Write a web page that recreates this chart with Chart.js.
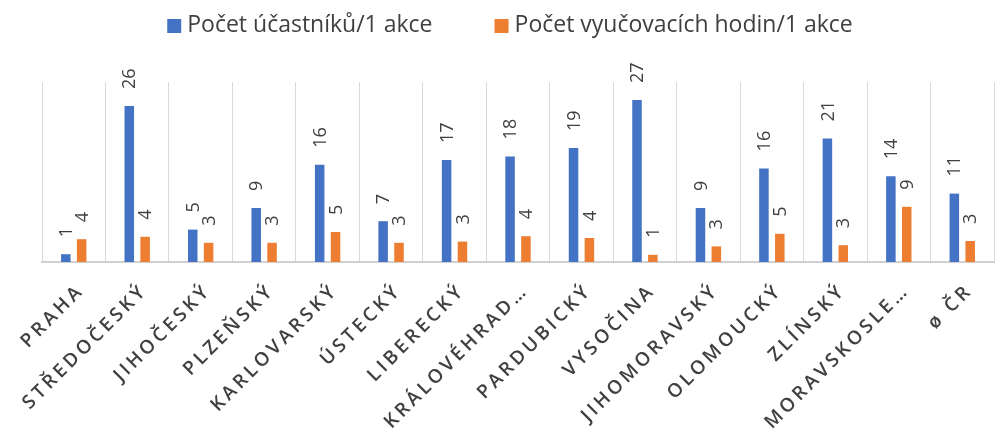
<!DOCTYPE html>
<html>
<head>
<meta charset="utf-8">
<script src="https://cdn.jsdelivr.net/npm/chart.js@4.4.1/dist/chart.umd.min.js"></script>
<style>
  html, body { margin: 0; padding: 0; background: #fff; }
  #wrap { width: 996px; height: 429px; }
</style>
</head>
<body>
<div id="wrap"><canvas id="chart"></canvas></div>
<script>
// categories (as shown, truncated like in the original)
const regions = ['PRAHA', 'STŘEDOČESKÝ', 'JIHOČESKÝ', 'PLZEŇSKÝ', 'KARLOVARSKÝ', 'ÚSTECKÝ', 'LIBERECKÝ',
  'KRÁLOVÉHRAD…', 'PARDUBICKÝ', 'VYSOČINA', 'JIHOMORAVSKÝ', 'OLOMOUCKÝ', 'ZLÍNSKÝ', 'MORAVSKOSLE…', 'ø ČR'];

// bar values
const participants = [1.3, 26, 5.4, 9, 16.2, 6.8, 17, 17.6, 19, 27, 9, 15.6, 20.6, 14.3, 11.4];
const hours        = [3.8, 4.2, 3.2, 3.2, 5, 3.2, 3.4, 4.3, 4, 1.2, 2.6, 4.7, 2.8, 9.2, 3.5];

// printed labels above bars
const participantsLbl = [1, 26, 5, 9, 16, 7, 17, 18, 19, 27, 9, 16, 21, 14, 11];
const hoursLbl        = [4, 4, 3, 3, 5, 3, 3, 4, 4, 1, 3, 5, 3, 9, 3];

const seriesNames = ['Počet účastníků/1 akce', 'Počet vyučovacích hodin/1 akce'];
const TEXT = '#404040';

// draws text right-aligned with letter spacing
function spacedText(ctx, txt, spacing) {
  const chars = Array.from(txt);
  let total = 0;
  chars.forEach(c => total += ctx.measureText(c).width);
  total += spacing * (chars.length - 1);
  let x = -total;
  chars.forEach(c => {
    ctx.fillText(c, x, 0);
    x += ctx.measureText(c).width + spacing;
  });
}

//----------------------- custom drawing -----------------------//
const customDraw = {
  id: 'customDraw',
  afterDatasetsDraw(chart) {
    const ctx = chart.ctx;
    ctx.save();
    ctx.fillStyle = TEXT;

    // value labels, rotated
    ctx.font = '18px "Open Sans"';
    chart.data.datasets.forEach((ds, di) => {
      chart.getDatasetMeta(di).data.forEach((bar, i) => {
        ctx.save();
        ctx.translate(bar.x + 1, bar.y - 17);
        ctx.rotate(-Math.PI / 2);
        ctx.textAlign = 'left';
        ctx.textBaseline = 'middle';
        ctx.fillText(String(ds.valueLabels[i]), 0, 0);
        ctx.restore();
      });
    });

    // category labels, 45 degrees, letter spaced
    const xs = chart.scales.x;
    ctx.font = '600 19px "Open Sans"';
    chart.data.labels.forEach((lbl, i) => {
      ctx.save();
      ctx.translate(xs.getPixelForTick(i) + 5, 290);
      ctx.rotate(-Math.PI / 4);
      ctx.textAlign = 'left';
      ctx.textBaseline = 'middle';
      spacedText(ctx, lbl, 3.5);
      ctx.restore();
    });

    // legend
    ctx.font = '23px "Open Sans"';
    ctx.textBaseline = 'middle';
    ctx.textAlign = 'left';
    const box = 14, gap = 6, between = 62;
    const widths = chart.data.datasets.map(ds => box + gap + ctx.measureText(ds.label).width);
    const full = widths.reduce((a, b) => a + b, 0) + between * (widths.length - 1);
    let lx = 510 - full / 2;
    chart.data.datasets.forEach((ds, di) => {
      ctx.fillStyle = ds.backgroundColor;
      ctx.fillRect(lx, 19, box, box);
      ctx.fillStyle = TEXT;
      ctx.fillText(ds.label, lx + box + gap, 25);
      lx += widths[di] + between;
    });
    ctx.restore();
  }
};

new Chart(document.getElementById('chart'), {
  type: 'bar',
  data: {
    labels: regions,
    datasets: [
      { label: seriesNames[0], data: participants, valueLabels: participantsLbl,
        backgroundColor: '#4472C4', categoryPercentage: 0.5, barPercentage: 0.6 },
      { label: seriesNames[1], data: hours, valueLabels: hoursLbl,
        backgroundColor: '#ED7D31', categoryPercentage: 0.5, barPercentage: 0.6 }
    ]
  },
  options: {
    responsive: true,
    maintainAspectRatio: false,
    animation: false,
    layout: { padding: { left: 42, right: 2, top: 82, bottom: 0 } },
    plugins: {
      legend: { display: false },
      tooltip: { enabled: false }
    },
    scales: {
      x: {
        grid: { display: true, color: '#d9d9d9', lineWidth: 1, drawTicks: false, offset: true },
        border: { display: true, color: '#d0d0d0', width: 2 },
        ticks: { display: false },
        afterFit: s => { s.height = 167; }
      },
      y: {
        display: false,
        min: 0,
        max: 30
      }
    }
  },
  plugins: [customDraw]
});
</script>
</body>
</html>
